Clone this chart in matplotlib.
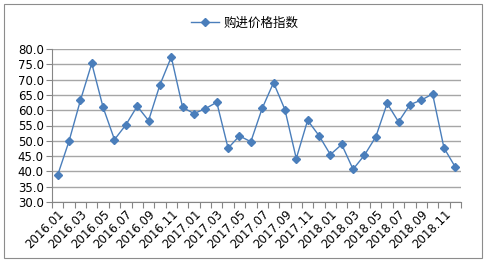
import matplotlib
matplotlib.use("Agg")
import matplotlib.pyplot as plt
from matplotlib.lines import Line2D
from matplotlib.patches import Rectangle
import numpy as np

plt.rcParams['font.family'] = ['Noto Sans CJK SC', 'DejaVu Sans']

months = [f"{y}.{m:02d}" for y in (2016, 2017, 2018) for m in range(1, 13)]
values = [38.8, 49.9, 63.2, 75.3, 60.9, 50.4, 55.2, 61.3, 56.6, 68.3, 77.4, 60.9,
          58.9, 60.5, 62.6, 47.6, 51.6, 49.7, 60.6, 69.0, 60.2, 44.2, 56.7, 51.7,
          45.5, 48.8, 40.7, 45.3, 51.3, 62.2, 56.2, 61.8, 63.3, 65.3, 47.7, 41.4]
series_name = "购进价格指数"
yticks = [30, 35, 40, 45, 50, 55, 60, 65, 70, 75, 80]

W, H = 487, 265
fig = plt.figure(figsize=(W / 100, H / 100), dpi=100)
fig.patch.set_facecolor('white')
fig.add_artist(Rectangle((4 / W, 1 - 258 / H), 478 / W, 254 / H, transform=fig.transFigure,
                         fill=False, edgecolor='#8c8c8c', lw=0.8))

ax = fig.add_axes([52 / W, 1 - 202 / H, 409 / W, 153 / H])
x = np.arange(len(months))
color = '#4a7ebb'
ax.plot(x, values, color=color, lw=1.0, marker='D', markersize=4.2,
        markerfacecolor=color, markeredgecolor=color)

ax.set_xlim(-0.5, len(months) - 0.5)
ax.set_ylim(30, 80)
ax.set_yticks(yticks)
ax.set_yticklabels([f"{v:.1f}" for v in yticks], fontsize=8.5, family='DejaVu Sans')
ax.yaxis.grid(True, color='#a6a6a6', lw=1.0)
ax.set_axisbelow(True)

ax.set_xticks(x[::2])
ax.set_xticklabels(months[::2], rotation=45, ha='right', rotation_mode='anchor',
                   fontsize=8.5, family='DejaVu Sans')
ax.tick_params(axis='x', length=0, pad=4)
ax.set_xticks(np.arange(-0.5, len(months), 1), minor=True)
ax.tick_params(axis='x', which='minor', length=4, color='#868686', width=0.8)
ax.tick_params(axis='y', length=4, color='#868686', width=0.8, pad=2)

for s in ['top', 'right']:
    ax.spines[s].set_visible(False)
for s in ['left', 'bottom']:
    ax.spines[s].set_color('#868686')
    ax.spines[s].set_linewidth(0.8)

handle = Line2D([], [], color=color, lw=1.0, marker='D', markersize=4.2,
                markerfacecolor=color, markeredgecolor=color)
fig.legend([handle], [series_name], loc='center', bbox_to_anchor=(245 / W, 1 - 23 / H),
           frameon=False, fontsize=9, handlelength=2.2, handletextpad=0.4)

fig.savefig('out.png', dpi=100, facecolor='white')
